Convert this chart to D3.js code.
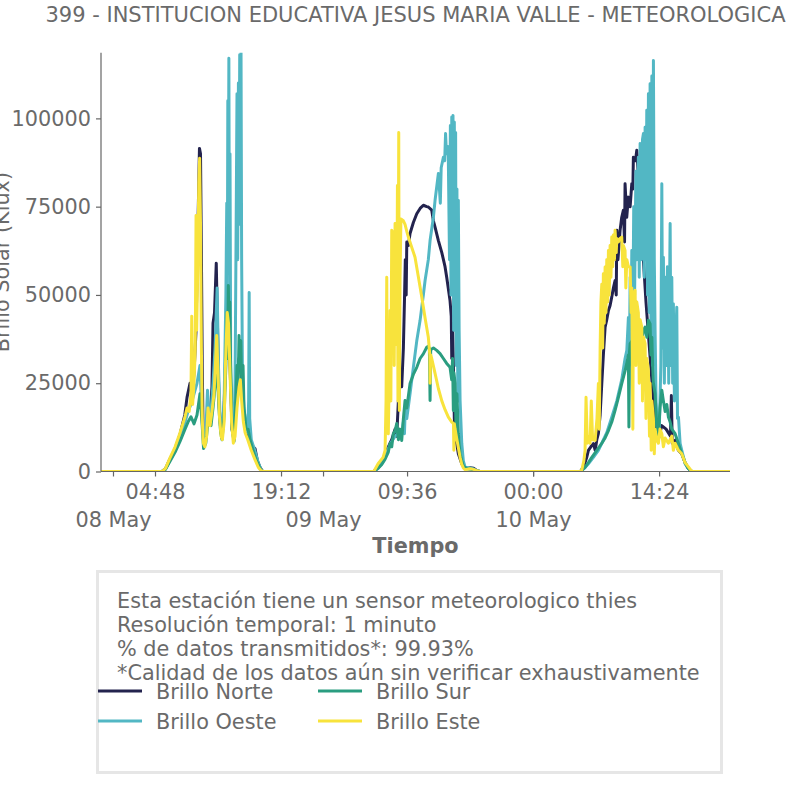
<!DOCTYPE html>
<html>
<head>
<meta charset="utf-8">
<script src="https://cdn.jsdelivr.net/npm/d3@7"></script>
<style>
  body { margin: 0; background: #fff; }
  text { font-family: "DejaVu Sans", sans-serif; fill: #6a6a6a; }
</style>
</head>
<body>
<div id="chart"></div>
<script>
// hours since 08 May 00:00, brillo in lux
const brilloNorte = [
  [-1.37, 0],
  [5.6, 0], [6.0, 800], [6.5, 3500], [7.1, 6500], [7.66, 10500], [8.2, 16000], [8.46, 21000], [8.8, 25000],
  [9.03, 22000], [9.26, 28000], [9.49, 40000], [9.71, 70000], [9.88, 91500], [10.0, 90000], [10.1, 62000],
  [10.2, 30000], [10.29, 12000], [10.45, 7500], [10.63, 10000], [10.86, 18000], [11.09, 15000], [11.31, 24000],
  [11.43, 42000], [11.6, 45000], [11.8, 59000], [11.95, 40000], [12.1, 20000], [12.3, 12000], [12.46, 9500],
  [12.69, 18000], [12.9, 35000], [13.14, 42000], [13.37, 30000], [13.6, 12000], [13.83, 9000], [14.06, 20000],
  [14.4, 32000], [14.63, 30000], [14.86, 18000], [15.09, 14000], [15.3, 12000], [15.6, 9000], [16.0, 7000],
  [16.23, 6500], [16.5, 3000], [16.8, 1200], [17.1, 0],
  [29.8, 0], [30.3, 1200], [30.7, 2500], [31.09, 4500], [31.46, 7000], [31.85, 9000], [32.23, 12000],
  [32.42, 10000], [32.61, 20000], [32.8, 26000], [32.99, 24000], [33.18, 35000], [33.3, 48000], [33.4, 60000],
  [33.5, 50000], [33.57, 65000], [33.75, 64000], [33.94, 67400], [34.32, 70500], [34.71, 73000], [35.09, 74500],
  [35.46, 75400], [35.85, 75000], [36.03, 74900], [36.42, 74000], [36.61, 71000], [36.8, 69200], [37.18, 65400],
  [37.57, 62000], [37.94, 58000], [38.13, 55000], [38.51, 48400], [38.65, 44000], [38.71, 32000], [38.8, 42000],
  [38.89, 31000], [39.0, 15000], [39.09, 10700], [39.46, 5000], [39.85, 2200], [40.03, 1700], [40.3, 800],
  [40.8, 1100], [41.2, 900], [41.6, 200], [41.94, 0],
  [53.4, 0], [53.8, 1500], [54.13, 4000], [54.32, 6000], [54.6, 7000], [54.89, 7900], [55.1, 6000], [55.28, 9000],
  [55.46, 10700], [55.66, 16000], [55.85, 24900], [56.03, 33000], [56.23, 40900], [56.42, 43000], [56.61, 45600],
  [56.8, 47000], [56.99, 49400], [57.18, 52000], [57.37, 54100], [57.5, 50000], [57.57, 68300], [57.7, 60000],
  [57.94, 68300], [58.13, 72000], [58.32, 74000], [58.45, 65000], [58.51, 81500], [58.7, 72000], [58.89, 77700],
  [59.09, 75000], [59.28, 81500], [59.4, 80000], [59.46, 89000], [59.7, 88000], [59.85, 91000], [60.0, 85000],
  [60.3, 70000], [60.6, 60000], [60.9, 48000], [61.2, 38000], [61.6, 25000], [62.0, 14000], [62.3, 9000],
  [62.7, 13000], [63.2, 12000], [63.7, 10000], [63.8, 21500], [63.9, 8000], [64.3, 9000], [64.6, 6000],
  [64.99, 5000], [65.37, 2500], [65.75, 800], [66.13, 0],
  [70.5, 0]
];

const brilloOeste = [
  [-1.37, 0],
  [5.6, 0], [6.0, 700], [6.5, 3200], [7.1, 6000], [7.66, 9500], [8.23, 14000], [8.57, 17000], [8.91, 19000],
  [9.26, 22000], [9.6, 25000], [9.94, 30000], [10.17, 15000], [10.35, 8500], [10.6, 11000], [10.8, 23000],
  [10.97, 15000], [11.2, 17000], [11.43, 25000], [11.66, 35000], [11.9, 52000], [12.05, 30000], [12.25, 14000],
  [12.46, 10000], [12.7, 20000], [12.9, 50000], [13.0, 76000], [13.06, 45000], [13.12, 105000], [13.18, 70000],
  [13.24, 117000], [13.3, 60000], [13.37, 90000], [13.45, 30000], [13.6, 14000], [13.8, 11000], [13.95, 25000],
  [14.1, 80000], [14.17, 107000], [14.25, 60000], [14.33, 110000], [14.4, 70000], [14.48, 118000], [14.56, 80000],
  [14.63, 119000], [14.7, 60000], [14.8, 25000], [14.97, 18000], [15.2, 13000], [15.4, 11000], [15.5, 20000],
  [15.56, 50700], [15.62, 15000], [15.8, 9000], [16.2, 6000], [16.6, 2500], [16.9, 600], [17.14, 0],
  [29.8, 0], [30.3, 1000], [30.7, 2200], [31.09, 4000], [31.46, 6500], [31.85, 8500], [32.23, 10000],
  [32.61, 11000], [32.99, 10500], [33.18, 14000], [33.3, 10700], [33.4, 18000], [33.57, 15000], [33.94, 22000],
  [34.32, 29500], [34.71, 37000], [35.09, 42800], [35.46, 50000], [35.66, 54100], [36.03, 60000], [36.23, 65400],
  [36.61, 72000], [36.8, 76800], [37.18, 84400], [37.3, 80000], [37.4, 76000], [37.5, 86000], [37.75, 89000],
  [37.9, 88000], [38.0, 95700], [38.1, 90000], [38.3, 92000], [38.45, 60000], [38.55, 98000], [38.62, 50000],
  [38.71, 100400], [38.8, 70000], [38.85, 100800], [38.92, 40000], [39.0, 99000], [39.09, 60000], [39.15, 96000],
  [39.22, 30000], [39.3, 80000], [39.4, 20000], [39.46, 76800], [39.55, 40000], [39.66, 20000], [39.85, 8000],
  [40.03, 3000], [40.23, 1200], [40.8, 1000], [41.2, 700], [41.6, 200], [41.94, 0],
  [53.4, 0], [53.8, 800], [54.32, 2200], [54.89, 4000], [55.46, 6000], [55.85, 8000], [56.42, 11000],
  [56.99, 15400], [57.57, 20000], [58.13, 26000], [58.51, 32000], [58.71, 34300], [58.89, 43600], [59.0, 30000],
  [59.09, 55000], [59.2, 40000], [59.28, 62600], [59.4, 45000], [59.5, 75000], [59.6, 50000], [59.75, 85000],
  [59.85, 60000], [60.03, 89000], [60.13, 55000], [60.23, 92900], [60.35, 60000], [60.5, 94000], [60.61, 95700],
  [60.7, 55000], [60.8, 97500], [60.9, 60000], [60.99, 102300], [61.08, 50000], [61.18, 107000], [61.27, 45000],
  [61.37, 109800], [61.47, 40000], [61.57, 112000], [61.66, 30000], [61.75, 116400], [61.85, 60000],
  [61.94, 40000], [62.05, 20000], [62.2, 11000], [62.4, 10000], [62.6, 30000], [62.71, 81500], [62.8, 35000],
  [62.89, 60700], [63.0, 25000], [63.1, 55000], [63.2, 30000], [63.35, 58000], [63.5, 25000], [63.66, 70200],
  [63.75, 30000], [63.85, 55000], [63.95, 25000], [64.03, 47500], [64.15, 20000], [64.3, 38000], [64.42, 46500],
  [64.5, 15000], [64.61, 15400], [64.8, 8000], [64.99, 6000], [65.37, 2200], [65.75, 800], [66.13, 0],
  [70.5, 0]
];

const brilloSur = [
  [-1.37, 0],
  [5.6, 0], [6.0, 600], [6.5, 2800], [7.1, 5500], [7.66, 8500], [8.23, 12000], [8.57, 14000], [8.91, 15500],
  [9.26, 13500], [9.6, 16000], [9.94, 22000], [10.17, 14000], [10.35, 6500], [10.6, 8000], [10.86, 14000],
  [11.2, 13000], [11.43, 18000], [11.66, 24000], [11.9, 30000], [12.1, 18000], [12.3, 11000], [12.46, 9000],
  [12.7, 16000], [12.9, 30000], [13.03, 45000], [13.1, 32000], [13.18, 52700], [13.26, 38000], [13.34, 48000],
  [13.45, 28000], [13.6, 12000], [13.83, 8500], [14.0, 18000], [14.17, 30000], [14.3, 25000], [14.4, 38500],
  [14.5, 30000], [14.6, 37000], [14.7, 26000], [14.86, 30000], [14.97, 18000], [15.2, 12000], [15.43, 12000],
  [15.66, 9000], [16.0, 6000], [16.4, 3000], [16.8, 800], [17.1, 0],
  [29.8, 0], [30.3, 900], [30.71, 2000], [31.09, 3500], [31.46, 5500], [31.66, 8000], [31.85, 7000],
  [32.03, 10700], [32.23, 11500], [32.42, 13600], [32.61, 9000], [32.8, 12000], [32.99, 8800], [33.18, 15000],
  [33.37, 20100], [33.57, 18000], [33.94, 24900], [34.32, 27500], [34.71, 29500], [35.09, 32000], [35.46, 33300],
  [35.85, 35200], [36.03, 35500], [36.15, 34800], [36.23, 20100], [36.3, 34500], [36.61, 35000], [36.99, 34300],
  [37.37, 33400], [37.75, 32000], [38.13, 30600], [38.51, 29500], [38.7, 26000], [38.8, 32000], [38.89, 17300],
  [38.95, 28000], [39.09, 25000], [39.2, 12000], [39.3, 22000], [39.46, 10700], [39.66, 5000], [39.85, 3100],
  [40.03, 1500], [40.5, 700], [41.0, 600], [41.5, 200], [41.94, 0],
  [53.4, 0], [53.94, 1200], [54.32, 2500], [54.71, 4000], [55.28, 6000], [55.85, 8000], [56.23, 9500],
  [56.61, 11600], [56.99, 14000], [57.37, 17300], [57.75, 21000], [58.13, 24900], [58.51, 28500], [58.71, 30600],
  [58.89, 33000], [58.95, 12600], [59.02, 34000], [59.09, 36200], [59.46, 37500], [59.66, 38000], [60.03, 39000],
  [60.23, 39100], [60.42, 36000], [60.61, 40000], [60.8, 40900], [61.0, 38000], [61.18, 42800], [61.37, 41800],
  [61.47, 33000], [61.57, 38000], [61.66, 30000], [61.75, 25000], [61.94, 22000], [62.13, 13000], [62.32, 10000],
  [62.5, 18000], [62.71, 23000], [62.89, 20000], [63.09, 17000], [63.28, 19000], [63.46, 15400], [63.66, 14000],
  [63.85, 12000], [64.23, 10700], [64.6, 8000], [64.99, 5000], [65.37, 2500], [65.75, 800], [66.13, 0],
  [70.5, 0]
];

const brilloEste = [
  [-1.37, 0],
  [5.6, 0], [6.0, 900], [6.5, 3800], [7.1, 7000], [7.66, 11000], [8.23, 15500], [8.46, 18000], [8.7, 17000],
  [8.91, 22000], [9.0, 44000], [9.1, 19000], [9.26, 25000], [9.4, 35000], [9.49, 72500], [9.56, 40000],
  [9.7, 60000], [9.8, 82000], [9.9, 88700], [10.0, 70000], [10.1, 35000], [10.2, 15000], [10.32, 8000],
  [10.5, 7000], [10.7, 10000], [10.86, 18000], [11.09, 13000], [11.31, 17000], [11.54, 22000], [11.7, 30000],
  [11.85, 38500], [12.0, 28000], [12.15, 16000], [12.35, 10000], [12.5, 9000], [12.7, 14000], [12.85, 30000],
  [13.05, 45000], [13.2, 42000], [13.37, 28000], [13.55, 14000], [13.75, 8000], [13.95, 10000], [14.17, 18000],
  [14.4, 24000], [14.55, 26000], [14.7, 20000], [14.9, 14000], [15.1, 11000], [15.4, 9000], [15.8, 6000],
  [16.2, 3500], [16.6, 1200], [16.9, 300], [17.14, 0],
  [29.8, 0], [30.29, 2200], [30.86, 4000], [31.09, 6000], [31.2, 20000], [31.28, 55000], [31.36, 12000],
  [31.46, 10700], [31.58, 30000], [31.66, 45600], [31.75, 20000], [31.85, 68300], [31.95, 40000], [32.03, 67800],
  [32.13, 30000], [32.23, 70200], [32.33, 50000], [32.42, 36000], [32.5, 81000], [32.56, 20000], [32.65, 96000],
  [32.72, 17300], [32.8, 55000], [32.9, 71500], [33.18, 71000], [33.37, 70000], [33.57, 68000], [33.75, 66400],
  [34.13, 63500], [34.51, 60700], [34.9, 55000], [35.28, 49400], [35.66, 43500], [36.03, 38000], [36.2, 33000],
  [36.23, 25000], [36.3, 33000], [36.42, 32000], [36.8, 27800], [37.18, 23500], [37.57, 20000], [37.94, 17500],
  [38.32, 15400], [38.71, 14000], [38.9, 13600], [38.95, 6000], [39.0, 13500], [39.09, 12000], [39.3, 9000],
  [39.66, 4000], [39.85, 2000], [40.03, 1000], [40.23, 500], [40.8, 800], [41.2, 600], [41.6, 200], [41.94, 0],
  [53.4, 0], [53.57, 500], [53.8, 3000], [53.94, 6000], [54.05, 21000], [54.2, 8000], [54.4, 10000],
  [54.51, 8000], [54.65, 20000], [54.8, 9000], [55.09, 8800], [55.3, 15000], [55.46, 24900], [55.56, 12000],
  [55.66, 35000], [55.75, 48000], [55.85, 53000], [55.95, 35000], [56.03, 56000], [56.13, 42000], [56.23, 57900],
  [56.33, 45000], [56.42, 60000], [56.52, 48000], [56.61, 62600], [56.7, 50000], [56.8, 64000], [56.9, 55000],
  [56.99, 66400], [57.1, 58000], [57.18, 67000], [57.3, 60000], [57.37, 68300], [57.5, 62000], [57.57, 66000],
  [57.75, 65000], [57.94, 66000], [58.13, 66400], [58.25, 58000], [58.32, 64000], [58.51, 62600], [58.6, 52000],
  [58.71, 60000], [58.89, 58000], [59.09, 57900], [59.2, 45000], [59.28, 52000], [59.4, 12000], [59.46, 50000],
  [59.66, 51300], [59.75, 30000], [59.85, 48000], [60.03, 45000], [60.13, 25000], [60.23, 43000], [60.42, 40900],
  [60.5, 20000], [60.61, 38000], [60.8, 36200], [60.9, 15000], [60.99, 32000], [61.18, 28600], [61.3, 10000],
  [61.37, 25000], [61.5, 6000], [61.57, 20000], [61.75, 15000], [61.85, 5000], [61.94, 12000], [62.13, 9000],
  [62.32, 8000], [62.5, 12000], [62.71, 10700], [62.89, 7000], [63.09, 9500], [63.46, 8000], [63.85, 10000],
  [64.03, 6000], [64.23, 8000], [64.61, 6000], [64.99, 5000], [65.37, 2500], [65.75, 1300], [66.13, 0],
  [70.5, 0]
];

const series = ["Brillo Norte", "Brillo Oeste", "Brillo Sur", "Brillo Este"];
const colores = ["#23234e", "#52b7c4", "#2a9d80", "#f8e33c"];
const yTicks = [0, 25000, 50000, 75000, 100000];
const horaTicks = [4.8, 19.2, 33.6, 48, 62.4];
const diaTicks = [0, 24, 48];
const notas = [
  "Esta estación tiene un sensor meteorologico thies",
  "Resolución temporal: 1 minuto",
  "% de datos transmitidos*: 99.93%",
  "*Calidad de los datos aún sin verificar exhaustivamente"
];
const titulo = "399 - INSTITUCION EDUCATIVA JESUS MARIA VALLE - METEOROLOGICA";

const t0 = new Date(2023, 4, 8, 0, 0);
const toDate = h => new Date(t0.getTime() + h * 3600e3);

const W = 806, H = 806;
const plotL = 101, plotR = 730, plotT = 52.7, plotB = 471.5;
const fs = 20.8;

const svg = d3.select("#chart").append("svg")
    .attr("width", W)
    .attr("height", H);

svg.append("rect").attr("width", W).attr("height", H).attr("fill", "#fff");

const x = d3.scaleTime()
    .domain([toDate(-1.37), toDate(70.5)])
    .range([plotL, plotR]);

const y = d3.scaleLinear()
    .domain([0, 118600])
    .range([plotB, plotT]);

svg.append("clipPath").attr("id", "clip")
  .append("rect")
    .attr("x", plotL).attr("y", plotT)
    .attr("width", plotR - plotL).attr("height", plotB - plotT);

const line = d3.line()
    .x(d => x(toDate(d[0])))
    .y(d => y(d[1]));

const datos = [brilloNorte, brilloOeste, brilloSur, brilloEste];

svg.append("g").attr("clip-path", "url(#clip)")
  .selectAll("path")
  .data(datos)
  .enter()
  .append("path")
    .attr("d", line)
    .attr("fill", "none")
    .attr("stroke", (d, i) => colores[i])
    .attr("stroke-width", 3)
    .attr("stroke-linejoin", "round");

// y axis
const yAxis = svg.append("g")
    .attr("transform", `translate(${plotL},0)`)
    .call(d3.axisLeft(y).tickValues(yTicks).tickSize(5).tickPadding(5).tickFormat(d3.format("d")));

// x axis, horas
const xAxis = svg.append("g")
    .attr("transform", `translate(0,${plotB})`)
    .call(d3.axisBottom(x).tickValues(horaTicks.map(toDate)).tickSize(5).tickPadding(7.5)
      .tickFormat(d3.timeFormat("%H:%M")));

// x axis, dias
const xAxis2 = svg.append("g")
    .attr("transform", `translate(0,${plotB})`)
    .call(d3.axisBottom(x).tickValues(diaTicks.map(toDate)).tickSize(5).tickPadding(36)
      .tickFormat(d3.timeFormat("%d %b")));

[yAxis, xAxis, xAxis2].forEach(a => {
  a.selectAll("text").style("font-size", fs + "px").attr("fill", "#6a6a6a");
  a.selectAll("line").attr("stroke", "#666").attr("stroke-width", 1.2);
  a.select(".domain").remove();
});

svg.append("line")
    .attr("x1", plotL).attr("x2", plotL).attr("y1", plotT).attr("y2", plotB)
    .attr("stroke", "#666").attr("stroke-width", 1.2);
svg.append("line")
    .attr("x1", plotL).attr("x2", plotR).attr("y1", plotB).attr("y2", plotB)
    .attr("stroke", "#666").attr("stroke-width", 1.2);

// titulos
svg.append("text")
    .attr("x", (plotL + plotR) / 2).attr("y", 22)
    .attr("text-anchor", "middle")
    .style("font-size", "21px")
    .text(titulo);

svg.append("text")
    .attr("x", (plotL + plotR) / 2).attr("y", 553)
    .attr("text-anchor", "middle")
    .style("font-size", fs + "px")
    .style("font-weight", "bold")
    .text("Tiempo");

// eje y, cortado en el borde como en el original
svg.append("text")
    .attr("transform", `translate(9,${(plotT + plotB) / 2}) rotate(-90)`)
    .attr("text-anchor", "middle")
    .style("font-size", fs + "px")
    .text("Brillo Solar (Klux)");

// caja de leyenda
svg.append("rect")
    .attr("x", 97.5).attr("y", 571.5)
    .attr("width", 624).attr("height", 201)
    .attr("fill", "#fff")
    .attr("stroke", "#e6e6e6")
    .attr("stroke-width", 3);

svg.selectAll(".nota")
  .data(notas)
  .enter()
  .append("text")
    .attr("class", "nota")
    .attr("x", 117)
    .attr("y", (d, i) => 608 + i * 24)
    .style("font-size", fs + "px")
    .text(d => d);

const leg = svg.selectAll(".leg")
  .data(series)
  .enter()
  .append("g")
    .attr("class", "leg")
    .attr("transform", (d, i) => `translate(${i < 2 ? 98 : 318},${i % 2 === 0 ? 691 : 721})`);

leg.append("line")
    .attr("x1", 0).attr("x2", 44)
    .attr("stroke", (d, i) => colores[i])
    .attr("stroke-width", 3);

leg.append("text")
    .attr("x", 58).attr("y", 8)
    .style("font-size", fs + "px")
    .text(d => d);
</script>
</body>
</html>
